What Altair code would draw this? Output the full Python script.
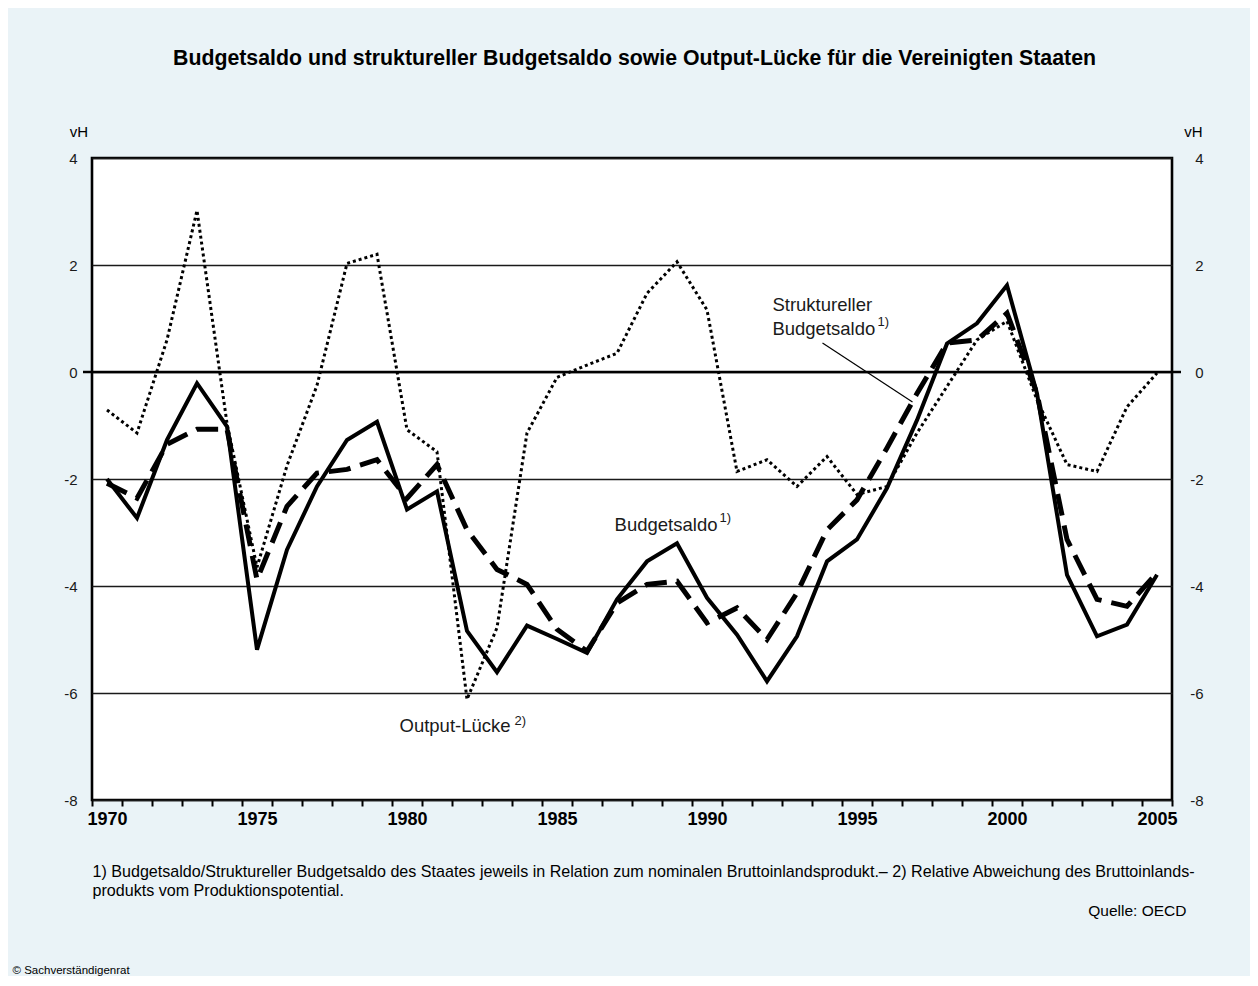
import altair as alt
import pandas as pd

years = list(range(1970, 2006))
budgetsaldo = [-2.0, -2.73, -1.27, -0.21, -1.02, -5.19, -3.32, -2.14, -1.27, -0.93,
               -2.57, -2.23, -4.84, -5.61, -4.74, -4.99, -5.25, -4.25, -3.54, -3.20,
               -4.22, -4.91, -5.78, -4.94, -3.54, -3.13, -2.17, -0.90, 0.53, 0.91,
               1.62, -0.40, -3.79, -4.94, -4.72, -3.79]
struktureller = [-2.08, -2.36, -1.35, -1.07, -1.07, -3.88, -2.51, -1.89, -1.82, -1.64,
                 -2.36, -1.73, -2.95, -3.69, -3.97, -4.81, -5.22, -4.32, -3.97, -3.91,
                 -4.69, -4.41, -5.0, -4.13, -2.95, -2.39, -1.42, -0.40, 0.54, 0.60,
                 1.10, -0.40, -3.13, -4.25, -4.38, -3.75]
output_luecke = [-0.71, -1.14, 0.6, 3.02, -0.96, -3.65, -1.75, -0.25, 2.03, 2.2,
                 -1.08, -1.49, -6.12, -4.78, -1.14, -0.1, 0.13, 0.35, 1.47, 2.06,
                 1.16, -1.86, -1.64, -2.14, -1.58, -2.29, -2.14, -1.14, -0.27, 0.6,
                 0.95, -0.52, -1.73, -1.86, -0.65, -0.02]
y_ticks = [-8, -6, -4, -2, 0, 2, 4]
x_ticks = list(range(1970, 2007))

FONT = "Liberation Sans"
BG = "#eaf3f7"
W, H = 1080, 642

df = pd.DataFrame({
    "x": [y + 0.5 for y in years],
    "budget": budgetsaldo,
    "struct": struktureller,
    "output": output_luecke,
})

xscale = alt.Scale(domain=[1970, 2006], nice=False, zero=False)
yscale = alt.Scale(domain=[-8, 4], nice=False, zero=False)

x_axis = alt.Axis(values=x_ticks, title=None, domain=False, grid=False,
                  ticks=True, tickSize=6, tickWidth=2, tickColor="black",
                  labelExpr="(datum.value % 5 == 0 && datum.value < 2006) ? '' + datum.value : ''",
                  labelOffset=15, labelFont=FONT, labelFontSize=18, labelFontWeight="bold",
                  labelColor="black", labelPadding=4, labelFlush=False, labelOverlap=False)
left_axis = alt.Axis(values=y_ticks, title=None, domain=False, ticks=False,
                     grid=True, gridColor="#1a1a1a", gridWidth=1.4,
                     labelExpr="'' + datum.value",
                     labelFont=FONT, labelFontSize=15, labelColor="#1a1a1a",
                     labelPadding=15, labelFlush=False)
right_axis = alt.Axis(values=y_ticks, title=None, domain=False, ticks=False, grid=False,
                      orient="right", labelAlign="right", labelPadding=31,
                      labelExpr="'' + datum.value",
                      labelFont=FONT, labelFontSize=15, labelColor="#1a1a1a",
                      labelFlush=False)


def X(field):
    return alt.X(field, scale=xscale, axis=x_axis)


base = alt.Chart(df)

solid = base.mark_line(color="black", strokeWidth=4, strokeJoin="miter").encode(
    x=X("x:Q"),
    y=alt.Y("budget:Q", scale=yscale, axis=left_axis),
)
dashed = base.mark_line(color="black", strokeWidth=5, strokeDash=[22, 10],
                        strokeJoin="miter").encode(
    x=X("x:Q"),
    y=alt.Y("struct:Q", scale=yscale, axis=right_axis),
)
dotted = base.mark_line(color="black", strokeWidth=3, strokeDash=[3, 3]).encode(
    x=X("x:Q"),
    y=alt.Y("output:Q", scale=yscale, axis=None),
)

zero_df = pd.DataFrame({"v": [0]})
zero_rule = alt.Chart(zero_df).mark_rule(color="black", strokeWidth=2.6).encode(
    x=alt.value(-9), x2=alt.value(W + 9),
    y=alt.Y("v:Q", scale=yscale, axis=None),
)

# Leader line for "Struktureller Budgetsaldo"
leader_df = pd.DataFrame({"x1": [1994.35], "y1": [0.54], "x2": [1997.35], "y2": [-0.56]})
leader = alt.Chart(leader_df).mark_rule(color="black", strokeWidth=1.2).encode(
    x=X("x1:Q"), x2="x2:Q",
    y=alt.Y("y1:Q", scale=yscale, axis=None), y2="y2:Q",
)

# Annotations (series labels)
ann_df = pd.DataFrame({
    "t": ["Budgetsaldo", "Output-Lücke", "Struktureller", "Budgetsaldo"],
    "x": [1987.42, 1980.25, 1992.68, 1992.68],
    "y": [-2.97, -6.73, 1.14, 0.69],
})
sup_df = pd.DataFrame({
    "t": ["1)", "2)", "1)"],
    "x": [1990.92, 1984.08, 1996.18],
    "y": [-2.80, -6.60, 0.86],
})
ann = alt.Chart(ann_df).mark_text(font=FONT, fontSize=18.5, align="left",
                                  baseline="alphabetic", color="#1a1a1a").encode(
    x=X("x:Q"),
    y=alt.Y("y:Q", scale=yscale, axis=None),
    text="t:N",
)
sup = alt.Chart(sup_df).mark_text(font=FONT, fontSize=13, align="left",
                                  baseline="alphabetic", color="#1a1a1a").encode(
    x=X("x:Q"),
    y=alt.Y("y:Q", scale=yscale, axis=None),
    text="t:N",
)

one = pd.DataFrame({"a": [0]})


def txt(text, x, y, size, align="left", weight="normal"):
    return alt.Chart(one).mark_text(text=text, font=FONT, fontSize=size, align=align,
                                    baseline="alphabetic", fontWeight=weight,
                                    color="black").encode(x=alt.value(x), y=alt.value(y))


title = txt("Budgetsaldo und struktureller Budgetsaldo sowie Output-Lücke für die Vereinigten Staaten",
            542.5, -93, 21.3, align="center", weight="bold")
vh_left = txt("vH", -4, -21, 15, align="right")
vh_right = txt("vH", 1110.5, -21, 15, align="right")
foot1 = txt("1) Budgetsaldo/Struktureller Budgetsaldo des Staates jeweils in Relation zum nominalen "
            "Bruttoinlandsprodukt.– 2) Relative Abweichung des Bruttoinlands-", 0.5, 719, 16.1)
foot2 = txt("produkts vom Produktionspotential.", 0.5, 738, 16.1)
quelle = txt("Quelle: OECD", 1094.5, 758, 15.5, align="right")
copy = txt("© Sachverständigenrat", -79.5, 816, 11.5)

chart = alt.layer(
    solid, dashed, dotted, zero_rule, leader, ann, sup,
    title, vh_left, vh_right, foot1, foot2, quelle, copy,
).resolve_axis(y="independent").properties(
    width=W, height=H,
    background=BG,
    padding={"left": 84, "top": 150, "right": 78, "bottom": 176},
    autosize=alt.AutoSizeParams(type="none"),
).configure_view(
    fill="white", stroke="black", strokeWidth=2.6,
)

chart.save("out.html", embed_options={"renderer": "svg", "actions": False})
